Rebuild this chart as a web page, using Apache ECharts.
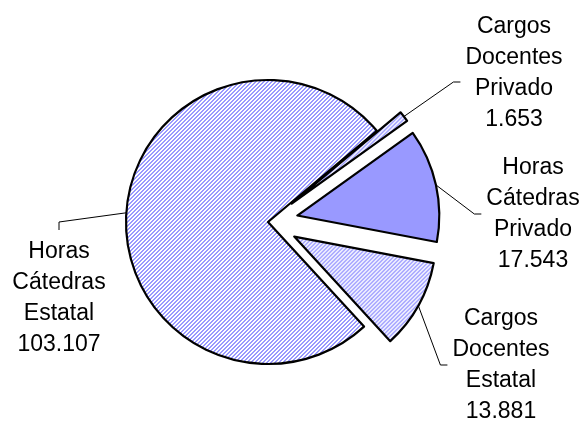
<!DOCTYPE html>
<html>
<head>
<meta charset="utf-8">
<script src="https://cdn.jsdelivr.net/npm/echarts@6/dist/echarts.min.js"></script>
<style>
html,body{margin:0;padding:0;background:#fff;}
#chart{width:587px;height:421px;}
</style>
</head>
<body>
<div id="chart"></div>
<script>
// ---- data ----
const categories = ['Cargos Docentes Privado', 'Horas Cátedras Privado', 'Cargos Docentes Estatal', 'Horas Cátedras Estatal'];
const values = [1653, 17543, 13881, 103107];
const exploded = [true, true, true, false];
const fillKinds = ['stripe', 'solid', 'stripe', 'stripe'];

// ---- layout (positions / styles only) ----
const PIE_CENTER = [268, 222];
const PIE_RADIUS = 142;
const EXPLODE = 30;
const labelCenters = [[514, 73], [533, 214], [501, 365], [59, 298]];
// leader: side of label the line attaches to, and vertical shift of the attach point
const leaderSide = ['left', 'left', 'left', 'top'];
const leaderShift = [9, 0, 0, 0];

function fmt(v) {
  return String(v).replace(/\B(?=(\d{3})+(?!\d))/g, '.');
}

function stripePattern() {
  const c = document.createElement('canvas');
  c.width = 4; c.height = 4;
  const ctx = c.getContext('2d');
  const img = ctx.createImageData(4, 4);
  for (let y = 0; y < 4; y++) {
    for (let x = 0; x < 4; x++) {
      const i = (y * 4 + x) * 4;
      const blue = ((x + y) % 4) < 2;
      img.data[i] = blue ? 0x99 : 0xff;
      img.data[i + 1] = blue ? 0x99 : 0xff;
      img.data[i + 2] = 0xff;
      img.data[i + 3] = 255;
    }
  }
  ctx.putImageData(img, 0, 0);
  return c;
}
const stripe = stripePattern();

const chart = echarts.init(document.getElementById('chart'), null, {renderer: 'canvas'});

const sliceData = categories.map((name, i) => ({
  name: name,
  value: values[i],
  selected: exploded[i],
  itemStyle: {
    color: fillKinds[i] === 'solid' ? '#9999ff' : {image: stripe, repeat: 'repeat'}
  }
}));

const labelData = categories.map((name, i) => ({name: name, value: values[i]}));

chart.setOption({
  animation: false,
  backgroundColor: '#ffffff',
  series: [{
    type: 'pie',
    center: PIE_CENTER,
    radius: PIE_RADIUS,
    startAngle: 40,
    clockwise: true,
    selectedMode: 'multiple',
    selectedOffset: EXPLODE,
    data: sliceData,
    itemStyle: {borderColor: '#000', borderWidth: 2.2},
    select: {itemStyle: {borderColor: '#000', borderWidth: 2.2}},
    emphasis: {disabled: true},
    label: {show: false},
    labelLine: {show: false}
  }, {
    type: 'pie',
    silent: true,
    center: PIE_CENTER,
    radius: PIE_RADIUS,
    startAngle: 40,
    clockwise: true,
    selectedMode: false,
    avoidLabelOverlap: false,
    data: labelData,
    itemStyle: {color: 'rgba(0,0,0,0)', borderWidth: 0},
    emphasis: {disabled: true},
    label: {
      show: true,
      position: 'outside',
      formatter: p => p.name.split(' ').join('\n') + '\n' + fmt(p.value),
      fontFamily: '"Liberation Sans", Arial, sans-serif',
      fontSize: 23,
      lineHeight: 31,
      color: '#000',
      align: 'center'
    },
    labelLine: {show: true, length: 20, length2: 8, lineStyle: {color: '#000', width: 1}},
    labelLayout: function (params) {
      const i = params.dataIndex;
      const c = labelCenters[i];
      const w = params.labelRect.width, h = params.labelRect.height;
      // start of the leader: mid-point of the slice's arc, moved out with the slice
      let p0 = params.labelLinePoints[0].slice();
      if (exploded[i]) {
        const vx = p0[0] - PIE_CENTER[0], vy = p0[1] - PIE_CENTER[1];
        const len = Math.sqrt(vx * vx + vy * vy) || 1;
        p0 = [p0[0] + vx / len * EXPLODE, p0[1] + vy / len * EXPLODE];
      }
      let p1, p2;
      if (leaderSide[i] === 'left') {
        const ex = c[0] - w / 2 - 5;
        const ey = c[1] + leaderShift[i];
        p2 = [ex, ey];
        p1 = [ex - 7, ey];
      } else {
        const ex = c[0];
        const ey = c[1] - h / 2 - 6;
        p2 = [ex, ey];
        p1 = [ex, ey - 8];
      }
      return {
        x: c[0], y: c[1], align: 'center', verticalAlign: 'middle',
        labelLinePoints: [p0, p1, p2]
      };
    }
  }]
});
</script>
</body>
</html>
